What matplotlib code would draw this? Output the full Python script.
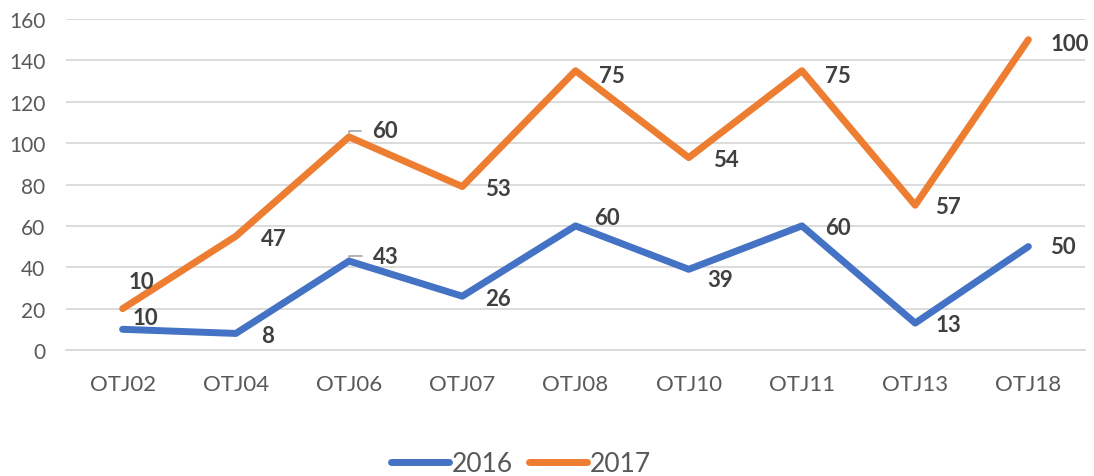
import numpy as np
import matplotlib
matplotlib.use("Agg")
import matplotlib.pyplot as plt

# données
categories = ["OTJ02", "OTJ04", "OTJ06", "OTJ07", "OTJ08", "OTJ10", "OTJ11", "OTJ13", "OTJ18"]
vals_2016 = [10, 8, 43, 26, 60, 39, 60, 13, 50]
vals_2017 = [10, 47, 60, 53, 75, 54, 75, 57, 100]
yticks = [0, 20, 40, 60, 80, 100, 120, 140, 160]

# décalages des étiquettes (pixels) depuis le point
off_2016 = [(10, 12), (25, -2), (24, 5), (23, -2), (19, 8), (19, -10), (23, -2), (20, -1), (22, 0)]
off_2017 = [(6, 27), (25, -2), (23, 6), (23, -2), (23, -5), (24, -2), (23, -5), (20, -1), (22, -4)]

blue = "#4472C4"
orange = "#ED7D31"
grey_txt = "#595959"
lab_col = "#404040"

plt.rcParams['font.family'] = ['Lato', 'DejaVu Sans']

fig = plt.figure(figsize=(10.94, 4.77), dpi=100)
ax = fig.add_axes([66 / 1094, 126 / 477, (1085 - 66) / 1094, (457 - 126) / 477])

x = np.arange(len(categories))
y16 = np.array(vals_2016)
y17 = y16 + np.array(vals_2017)  # série empilée

ax.plot(x, y16, color=blue, lw=5, solid_capstyle='round', solid_joinstyle='round', label="2016", zorder=3)
ax.plot(x, y17, color=orange, lw=5, solid_capstyle='round', solid_joinstyle='round', label="2017", zorder=3)

for i in range(len(x)):
    for yy, val, off in ((y16[i], vals_2016[i], off_2016[i]), (y17[i], vals_2017[i], off_2017[i])):
        kw = {}
        if i == 2:
            # lignes de rappel
            kw['arrowprops'] = dict(arrowstyle='-', color='#A6A6A6', lw=1.2,
                                    connectionstyle='angle,angleA=0,angleB=90,rad=0',
                                    shrinkA=6, shrinkB=3)
        ax.annotate(str(val), (x[i], yy), xytext=off, textcoords='offset pixels',
                    ha='left', va='center', fontsize=16, fontweight='bold',
                    color=lab_col, zorder=4, **kw)

ax.set_xlim(-0.5, len(x) - 0.5)
ax.set_ylim(0, 160)
ax.set_yticks(yticks)
ax.set_xticks(x)
ax.set_xticklabels(categories)
ax.tick_params(axis='both', length=0, labelcolor=grey_txt)
ax.tick_params(axis='y', pad=15, labelsize=15)
ax.tick_params(axis='x', pad=17, labelsize=16)
ax.grid(axis='y', color='#D9D9D9', lw=1.3)
ax.set_axisbelow(True)
for s in ['top', 'right', 'left']:
    ax.spines[s].set_visible(False)
ax.spines['bottom'].set_color('#D9D9D9')
ax.spines['bottom'].set_linewidth(1.3)

fig.legend(loc='center', bbox_to_anchor=(521 / 1094, 1 - 465 / 477), ncol=2, frameon=False,
           fontsize=19, labelcolor=grey_txt, handlelength=2.2, handletextpad=0.1,
           columnspacing=0.6, borderaxespad=0)

fig.savefig("out.png", dpi=100)
